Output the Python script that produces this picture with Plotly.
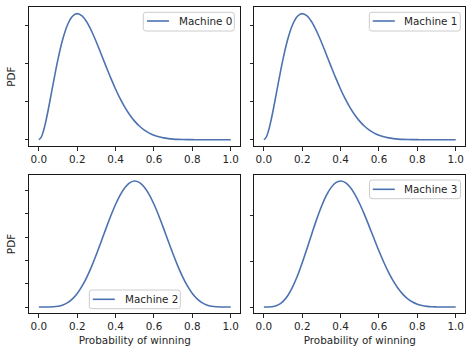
import plotly.graph_objects as go

# Probability of winning (x) and PDF values
x_vals = [0.0, 0.025, 0.05, 0.075, 0.10, 0.125, 0.15, 0.175, 0.20, 0.225, 0.25, 0.275,
          0.30, 0.325, 0.35, 0.375, 0.40, 0.425, 0.45, 0.475, 0.50, 0.525, 0.55, 0.575,
          0.60, 0.625, 0.65, 0.675, 0.70, 0.725, 0.75, 0.775, 0.80, 0.825, 0.85, 0.875,
          0.90, 0.925, 0.95, 0.975, 1.0]
# finer sampling at the steep start of the two top curves
x_vals_top = [0.0, 0.0125, 0.025, 0.0375, 0.05, 0.0625, 0.075, 0.0875, 0.10, 0.125, 0.15,
              0.175, 0.20, 0.225, 0.25, 0.275, 0.30, 0.325, 0.35, 0.375, 0.40, 0.425, 0.45,
              0.475, 0.50, 0.525, 0.55, 0.575, 0.60, 0.625, 0.65, 0.675, 0.70, 0.725, 0.75,
              0.775, 0.80, 0.825, 0.85, 0.875, 0.90, 0.925, 0.95, 0.975, 1.0]

machine_0 = [0.0, 0.070, 0.253, 0.513, 0.821, 1.154, 1.492, 1.822, 2.131, 2.658, 3.035,
             3.253, 3.322, 3.261, 3.097, 2.857, 2.568, 2.253, 1.932, 1.621, 1.330, 1.068, 0.839,
             0.645, 0.483, 0.354, 0.252, 0.174, 0.117, 0.076, 0.047, 0.028, 0.016, 0.0085, 0.0043,
             0.002, 0.0008, 0.0003, 0.0001, 0.0, 0.0, 0.0, 0.0, 0.0, 0.0]
machine_1 = [0.0, 0.070, 0.253, 0.513, 0.821, 1.154, 1.492, 1.822, 2.131, 2.658, 3.035,
             3.253, 3.322, 3.261, 3.097, 2.857, 2.568, 2.253, 1.932, 1.621, 1.330, 1.068, 0.839,
             0.645, 0.483, 0.354, 0.252, 0.174, 0.117, 0.076, 0.047, 0.028, 0.016, 0.0085, 0.0043,
             0.002, 0.0008, 0.0003, 0.0001, 0.0, 0.0, 0.0, 0.0, 0.0, 0.0]
machine_2 = [0.0, 0.0, 0.0007, 0.0045, 0.016, 0.043, 0.093, 0.174, 0.291, 0.447, 0.642, 0.873,
             1.132, 1.408, 1.689, 1.960, 2.207, 2.416, 2.574, 2.673, 2.707, 2.673, 2.574, 2.416,
             2.207, 1.960, 1.689, 1.408, 1.132, 0.873, 0.642, 0.447, 0.291, 0.174, 0.093, 0.043,
             0.016, 0.0045, 0.0007, 0.0, 0.0]
machine_3 = [0.0, 0.0008, 0.011, 0.046, 0.123, 0.253, 0.441, 0.683, 0.969, 1.283, 1.606, 1.919,
             2.201, 2.438, 2.614, 2.723, 2.759, 2.724, 2.622, 2.462, 2.256, 2.016, 1.755, 1.488,
             1.226, 0.980, 0.758, 0.565, 0.404, 0.276, 0.178, 0.108, 0.061, 0.031, 0.014, 0.005,
             0.0015, 0.0003, 0.0, 0.0, 0.0]

names = ["Machine 0", "Machine 1", "Machine 2", "Machine 3"]
series = [machine_0, machine_1, machine_2, machine_3]
series_x = [x_vals_top, x_vals_top, x_vals, x_vals]
y_tickvals = [[0, 1, 2, 3], [0, 1, 2, 3], [0, 0.5, 1, 1.5, 2, 2.5], [0, 1, 2]]
x_tickvals = [0.0, 0.2, 0.4, 0.6, 0.8, 1.0]
x_ticktext = ["0.0", "0.2", "0.4", "0.6", "0.8", "1.0"]

W, H = 472, 352
LINE = "#4c72b0"
TXT = "#262626"
FONT = "DejaVu Sans"
FS = 10.4

# panel pixel boxes (left, right, top, bottom)
boxes = [(29.3, 240.3, 7.3, 146.0), (254.3, 465.3, 7.3, 146.0),
         (29.3, 240.3, 174.7, 313.3), (254.3, 465.3, 174.7, 313.3)]
# legend boxes in pixels: left, top, right, bottom, line x0, line x1, line y, text x
legend_boxes = [(143.3, 12.3, 234.3, 31.0, 147.0, 169.0, 21.0, 176.5),
                (369.3, 12.3, 460.3, 31.0, 372.8, 394.8, 21.0, 402.3),
                (89.3, 290.0, 180.3, 308.7, 92.8, 114.8, 299.3, 122.5),
                (369.5, 180.0, 460.5, 198.7, 372.8, 394.8, 189.3, 402.3)]


def px(x):
    return x / W


def py(y):
    return 1 - y / H


def rounded_rect(l, t, r, b, rad=2.5):
    pts = [
        f"M {px(l + rad)},{py(t)}", f"L {px(r - rad)},{py(t)}",
        f"Q {px(r)},{py(t)} {px(r)},{py(t + rad)}", f"L {px(r)},{py(b - rad)}",
        f"Q {px(r)},{py(b)} {px(r - rad)},{py(b)}", f"L {px(l + rad)},{py(b)}",
        f"Q {px(l)},{py(b)} {px(l)},{py(b - rad)}", f"L {px(l)},{py(t + rad)}",
        f"Q {px(l)},{py(t)} {px(l + rad)},{py(t)}", "Z"]
    return " ".join(pts)


fig = go.Figure()
layout = dict(width=W, height=H, margin=dict(l=0, r=0, t=0, b=0),
              paper_bgcolor="white", plot_bgcolor="white",
              font=dict(family=FONT, size=FS, color=TXT), showlegend=False)
shapes = []
annotations = []

for i in range(4):
    sfx = "" if i == 0 else str(i + 1)
    fig.add_trace(go.Scatter(x=series_x[i], y=series[i], mode="lines", name=names[i],
                             line=dict(color=LINE, width=1.6, shape="spline", smoothing=1),
                             xaxis="x" + sfx, yaxis="y" + sfx))
    l, r, t, b = boxes[i]
    ymax = max(series[i])
    pad = 0.05 * ymax
    layout["xaxis" + sfx] = dict(
        domain=[l / W, r / W], anchor="y" + sfx, range=[-0.05, 1.05],
        tickvals=x_tickvals, ticktext=x_ticktext, ticks="outside", ticklen=3.5,
        tickwidth=0.8, tickcolor=TXT, showline=True, mirror=True, linecolor="#1a1a1a",
        linewidth=1, showgrid=False, zeroline=False,
        tickfont=dict(size=FS, color=TXT),
        title=dict(text="Probability of winning" if i >= 2 else "", standoff=5,
                   font=dict(size=FS, color=TXT)))
    layout["yaxis" + sfx] = dict(
        domain=[1 - b / H, 1 - t / H], anchor="x" + sfx, range=[-pad, ymax + pad],
        tickvals=y_tickvals[i], showticklabels=False, ticks="outside", ticklen=3.5,
        tickwidth=0.8, tickcolor=TXT, showline=True, mirror=True, linecolor="#1a1a1a",
        linewidth=1, showgrid=False, zeroline=False,
        title=dict(text="PDF" if i in (0, 2) else "", standoff=6.5,
                   font=dict(size=FS, color=TXT)))

    # legend drawn per panel
    lb, tb, rb, bb, lx0, lx1, ly, tx = legend_boxes[i]
    shapes.append(dict(type="path", xref="paper", yref="paper",
                       path=rounded_rect(lb, tb, rb, bb),
                       fillcolor="rgba(255,255,255,0.8)",
                       line=dict(color="#cccccc", width=1), layer="above"))
    shapes.append(dict(type="line", xref="paper", yref="paper",
                       x0=px(lx0), x1=px(lx1), y0=py(ly), y1=py(ly),
                       line=dict(color=LINE, width=1.6), layer="above"))
    annotations.append(dict(text=names[i], xref="paper", yref="paper",
                            x=px(tx), y=py(ly), xanchor="left", yanchor="middle",
                            showarrow=False, font=dict(size=FS, color=TXT)))

layout["shapes"] = shapes
layout["annotations"] = annotations
fig.update_layout(**layout)
fig.write_html("out.html")
